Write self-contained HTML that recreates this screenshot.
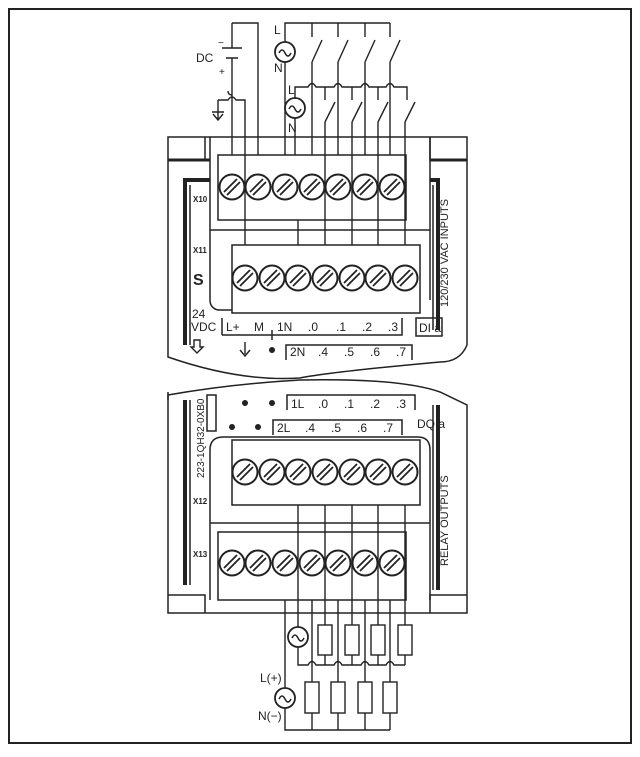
<!DOCTYPE html>
<html><head><meta charset="utf-8"><style>
html,body{margin:0;padding:0;background:#fff;}
svg{display:block}
text{font-family:"Liberation Sans",sans-serif;fill:#222}
</style></head><body>
<svg width="640" height="757" viewBox="0 0 640 757" xmlns="http://www.w3.org/2000/svg">
<defs>
<g id="scr"><circle r="12.5" fill="#fff" stroke="#222" stroke-width="2"/><line x1="-8" y1="5" x2="5" y2="-8" stroke="#222" stroke-width="1.8"/><line x1="-5" y1="8" x2="8" y2="-5" stroke="#222" stroke-width="1.8"/></g>
<g id="ac"><circle r="10" fill="#fff" stroke="#222" stroke-width="1.8"/><path d="M-6 1 q3 -6 6 0 q3 6 6 0" fill="none" stroke="#222" stroke-width="1.5"/></g>
</defs>
<rect x="9" y="9" width="622" height="734" fill="#fff" stroke="#222" stroke-width="2"/>
<g fill="none" stroke="#222" stroke-width="1.5">
<!-- Upper module -->
<path d="M168 357 V137 H467 V345 Q460 362 440 362 Q330 372 300 378 Q240 382 168 357 Z"/>
<path d="M168 160 H205 V137 M467 160 H430 V137"/>
<path d="M168 160 H210" stroke-width="3"/><path d="M467 160 H430" stroke-width="3"/>
<path d="M185 345 V180 H210" stroke-width="4"/><path d="M190 345 V185"/>
<path d="M438 330 V180 H430" stroke-width="4"/><path d="M433 330 V185"/>
<path d="M210 137 V300 Q210 308 218 310 H232"/>
<path d="M430 137 V300"/>
<rect x="218" y="155" width="188" height="65" fill="#fff"/>
<line x1="210" y1="230" x2="430" y2="230"/>
<rect x="232" y="245" width="188" height="68" fill="#fff"/>
<path d="M222 335 V318 M222 335 H402 V318"/>
<path d="M286 360 V345 H412 V360"/>
<path d="M272 340 V330"/>
<rect x="416" y="318" width="26" height="18"/>
<!-- Lower module -->
<path d="M168 395 Q230 384 300 380 Q400 378 440 392 L467 405 V613 H168 Z"/>
<path d="M185 585 V400" stroke-width="4"/><path d="M190 585 V400"/>
<path d="M168 392 V400" />
<path d="M438 590 V405" stroke-width="4"/><path d="M433 590 V405"/>
<path d="M168 595 H205 V613 M467 595 H430 V613"/>
<path d="M210 600 V450 Q210 437 223 437 H418 Q430 437 430 450 V600"/>
<rect x="232" y="440" width="188" height="65" fill="#fff"/>
<line x1="210" y1="523" x2="430" y2="523"/>
<rect x="218" y="532" width="188" height="68" fill="#fff"/>
<path d="M287 410 V395 H415 V410"/>
<path d="M273 435 V420 H402 V435"/>
<rect x="207" y="395" width="9" height="36"/>
</g>
<!-- Screws -->
<g>
<use href="#scr" x="232" y="187"/><use href="#scr" x="258" y="187"/><use href="#scr" x="285" y="187"/><use href="#scr" x="312" y="187"/><use href="#scr" x="338" y="187"/><use href="#scr" x="365" y="187"/><use href="#scr" x="392" y="187"/>
<use href="#scr" x="245" y="278"/><use href="#scr" x="272" y="278"/><use href="#scr" x="298" y="278"/><use href="#scr" x="325" y="278"/><use href="#scr" x="352" y="278"/><use href="#scr" x="378" y="278"/><use href="#scr" x="405" y="278"/>
<use href="#scr" x="245" y="472"/><use href="#scr" x="272" y="472"/><use href="#scr" x="298" y="472"/><use href="#scr" x="325" y="472"/><use href="#scr" x="352" y="472"/><use href="#scr" x="378" y="472"/><use href="#scr" x="405" y="472"/>
<use href="#scr" x="232" y="563"/><use href="#scr" x="258" y="563"/><use href="#scr" x="285" y="563"/><use href="#scr" x="312" y="563"/><use href="#scr" x="338" y="563"/><use href="#scr" x="365" y="563"/><use href="#scr" x="392" y="563"/>
</g>
<!-- top wiring -->
<g fill="none" stroke="#222" stroke-width="1.4">
<path d="M232 23 H258 V155"/>
<path d="M232 23 V48 M222 48 H242 M226 58 H238 M232 58 V95 q-4 0 -4 -4 M232 95 V155"/>
<path d="M218 100 H228 q4 -6 8 0 H245 V245"/>
<path d="M218 100 V112 M212 112 H224 M218 112 V120 M213 114 L218 120 L223 114"/>
<path d="M285 42 V23 H390 M312 23 V37 M338 23 V37 M365 23 V37 M390 23 V37"/>
<path d="M285 62 V155"/>
<path d="M312 62 L322 40 M338 62 L348 40 M365 62 L375 40 M390 62 L400 40"/>
<path d="M312 62 V155 M338 62 V155 M365 62 V155 M390 62 V155"/>
<path d="M295 98 V87 H308 q4 -7 8 0 H334 q4 -7 8 0 H361 q4 -7 8 0 H386 q4 -7 8 0 H407 V100"/>
<path d="M325 87 V100 M352 87 V100 M378 87 V100"/>
<path d="M325 122 L335 102 M352 122 L362 102 M378 122 L388 102 M405 122 L415 102"/>
<path d="M325 122 V245 M352 122 V245 M378 122 V245 M405 122 V245"/>
<path d="M295 118 V155 M298 220 V245"/>
<!-- lower wiring -->
<path d="M298 505 V627 M298 647 V665 H308 q4 -7 8 0 H334 q4 -7 8 0 H361 q4 -7 8 0 H386 q4 -7 8 0 H405"/>
<path d="M325 505 V625 M352 505 V625 M378 505 V625 M405 505 V625"/>
<path d="M325 655 V665 M352 655 V665 M378 655 V665 M405 655 V665"/>
<path d="M285 600 V688 M285 708 V730 H390"/>
<path d="M312 600 V682 M338 600 V682 M365 600 V682 M390 600 V682"/>
<path d="M312 713 V730 M338 713 V730 M365 713 V730 M390 713 V730"/>
<rect x="318" y="625" width="14" height="30" fill="#fff"/><rect x="345" y="625" width="14" height="30" fill="#fff"/><rect x="371" y="625" width="14" height="30" fill="#fff"/><rect x="398" y="625" width="14" height="30" fill="#fff"/>
<rect x="305" y="682" width="14" height="31" fill="#fff"/><rect x="331" y="682" width="14" height="31" fill="#fff"/><rect x="358" y="682" width="14" height="31" fill="#fff"/><rect x="383" y="682" width="14" height="31" fill="#fff"/>
</g>
<use href="#ac" x="285" y="52"/><use href="#ac" x="295" y="108"/>
<use href="#ac" x="298" y="637"/><use href="#ac" x="285" y="698"/>
<!-- texts -->
<g font-size="12">
<text x="196" y="62">DC</text>
<text x="218" y="46" font-size="10">−</text><text x="219" y="75" font-size="10">+</text>
<text x="274" y="34">L</text><text x="274" y="72">N</text>
<text x="288" y="94">L</text><text x="288" y="132">N</text>
<text x="192" y="318">24</text><text x="191" y="331">VDC</text>
<text x="226" y="331">L+</text><text x="254" y="331">M</text><text x="277" y="331">1N</text>
<text x="308" y="331">.0</text><text x="336" y="331">.1</text><text x="362" y="331">.2</text><text x="388" y="331">.3</text>
<text x="419" y="332">DI a</text>
<text x="290" y="356">2N</text><text x="318" y="356">.4</text><text x="344" y="356">.5</text><text x="370" y="356">.6</text><text x="396" y="356">.7</text>
<text x="291" y="408">1L</text><text x="318" y="408">.0</text><text x="344" y="408">.1</text><text x="370" y="408">.2</text><text x="396" y="408">.3</text>
<text x="277" y="432">2L</text><text x="305" y="432">.4</text><text x="331" y="432">.5</text><text x="357" y="432">.6</text><text x="383" y="432">.7</text>
<text x="417" y="428">DQ a</text>
<text x="260" y="682">L(+)</text><text x="258" y="720">N(−)</text>
<text x="193" y="202" font-size="8" font-weight="bold">X10</text><text x="193" y="253" font-size="8" font-weight="bold">X11</text>
<text x="193" y="504" font-size="8" font-weight="bold">X12</text><text x="193" y="557" font-size="8" font-weight="bold">X13</text>
<text x="193" y="285" font-size="16" font-weight="bold">S</text>
<text transform="translate(448,307) rotate(-90)" font-size="11">120/230 VAC INPUTS</text>
<text transform="translate(448,566) rotate(-90)" font-size="11">RELAY OUTPUTS</text>
<text transform="translate(204,478) rotate(-90)" font-size="10">223-1QH32-0XB0</text>
</g>
<g fill="#222">
<circle cx="272" cy="350" r="3"/><circle cx="245" cy="403" r="3"/><circle cx="272" cy="403" r="3"/><circle cx="232" cy="427" r="3"/><circle cx="258" cy="427" r="3"/>
</g>
<g fill="none" stroke="#222" stroke-width="1.4">
<path d="M245 342 V354 M240 350 L245 356 L250 350"/>
<path d="M194 340 H200 V347 H203 L197 353 L191 347 H194 Z"/>
</g>
</svg>
</body></html>
